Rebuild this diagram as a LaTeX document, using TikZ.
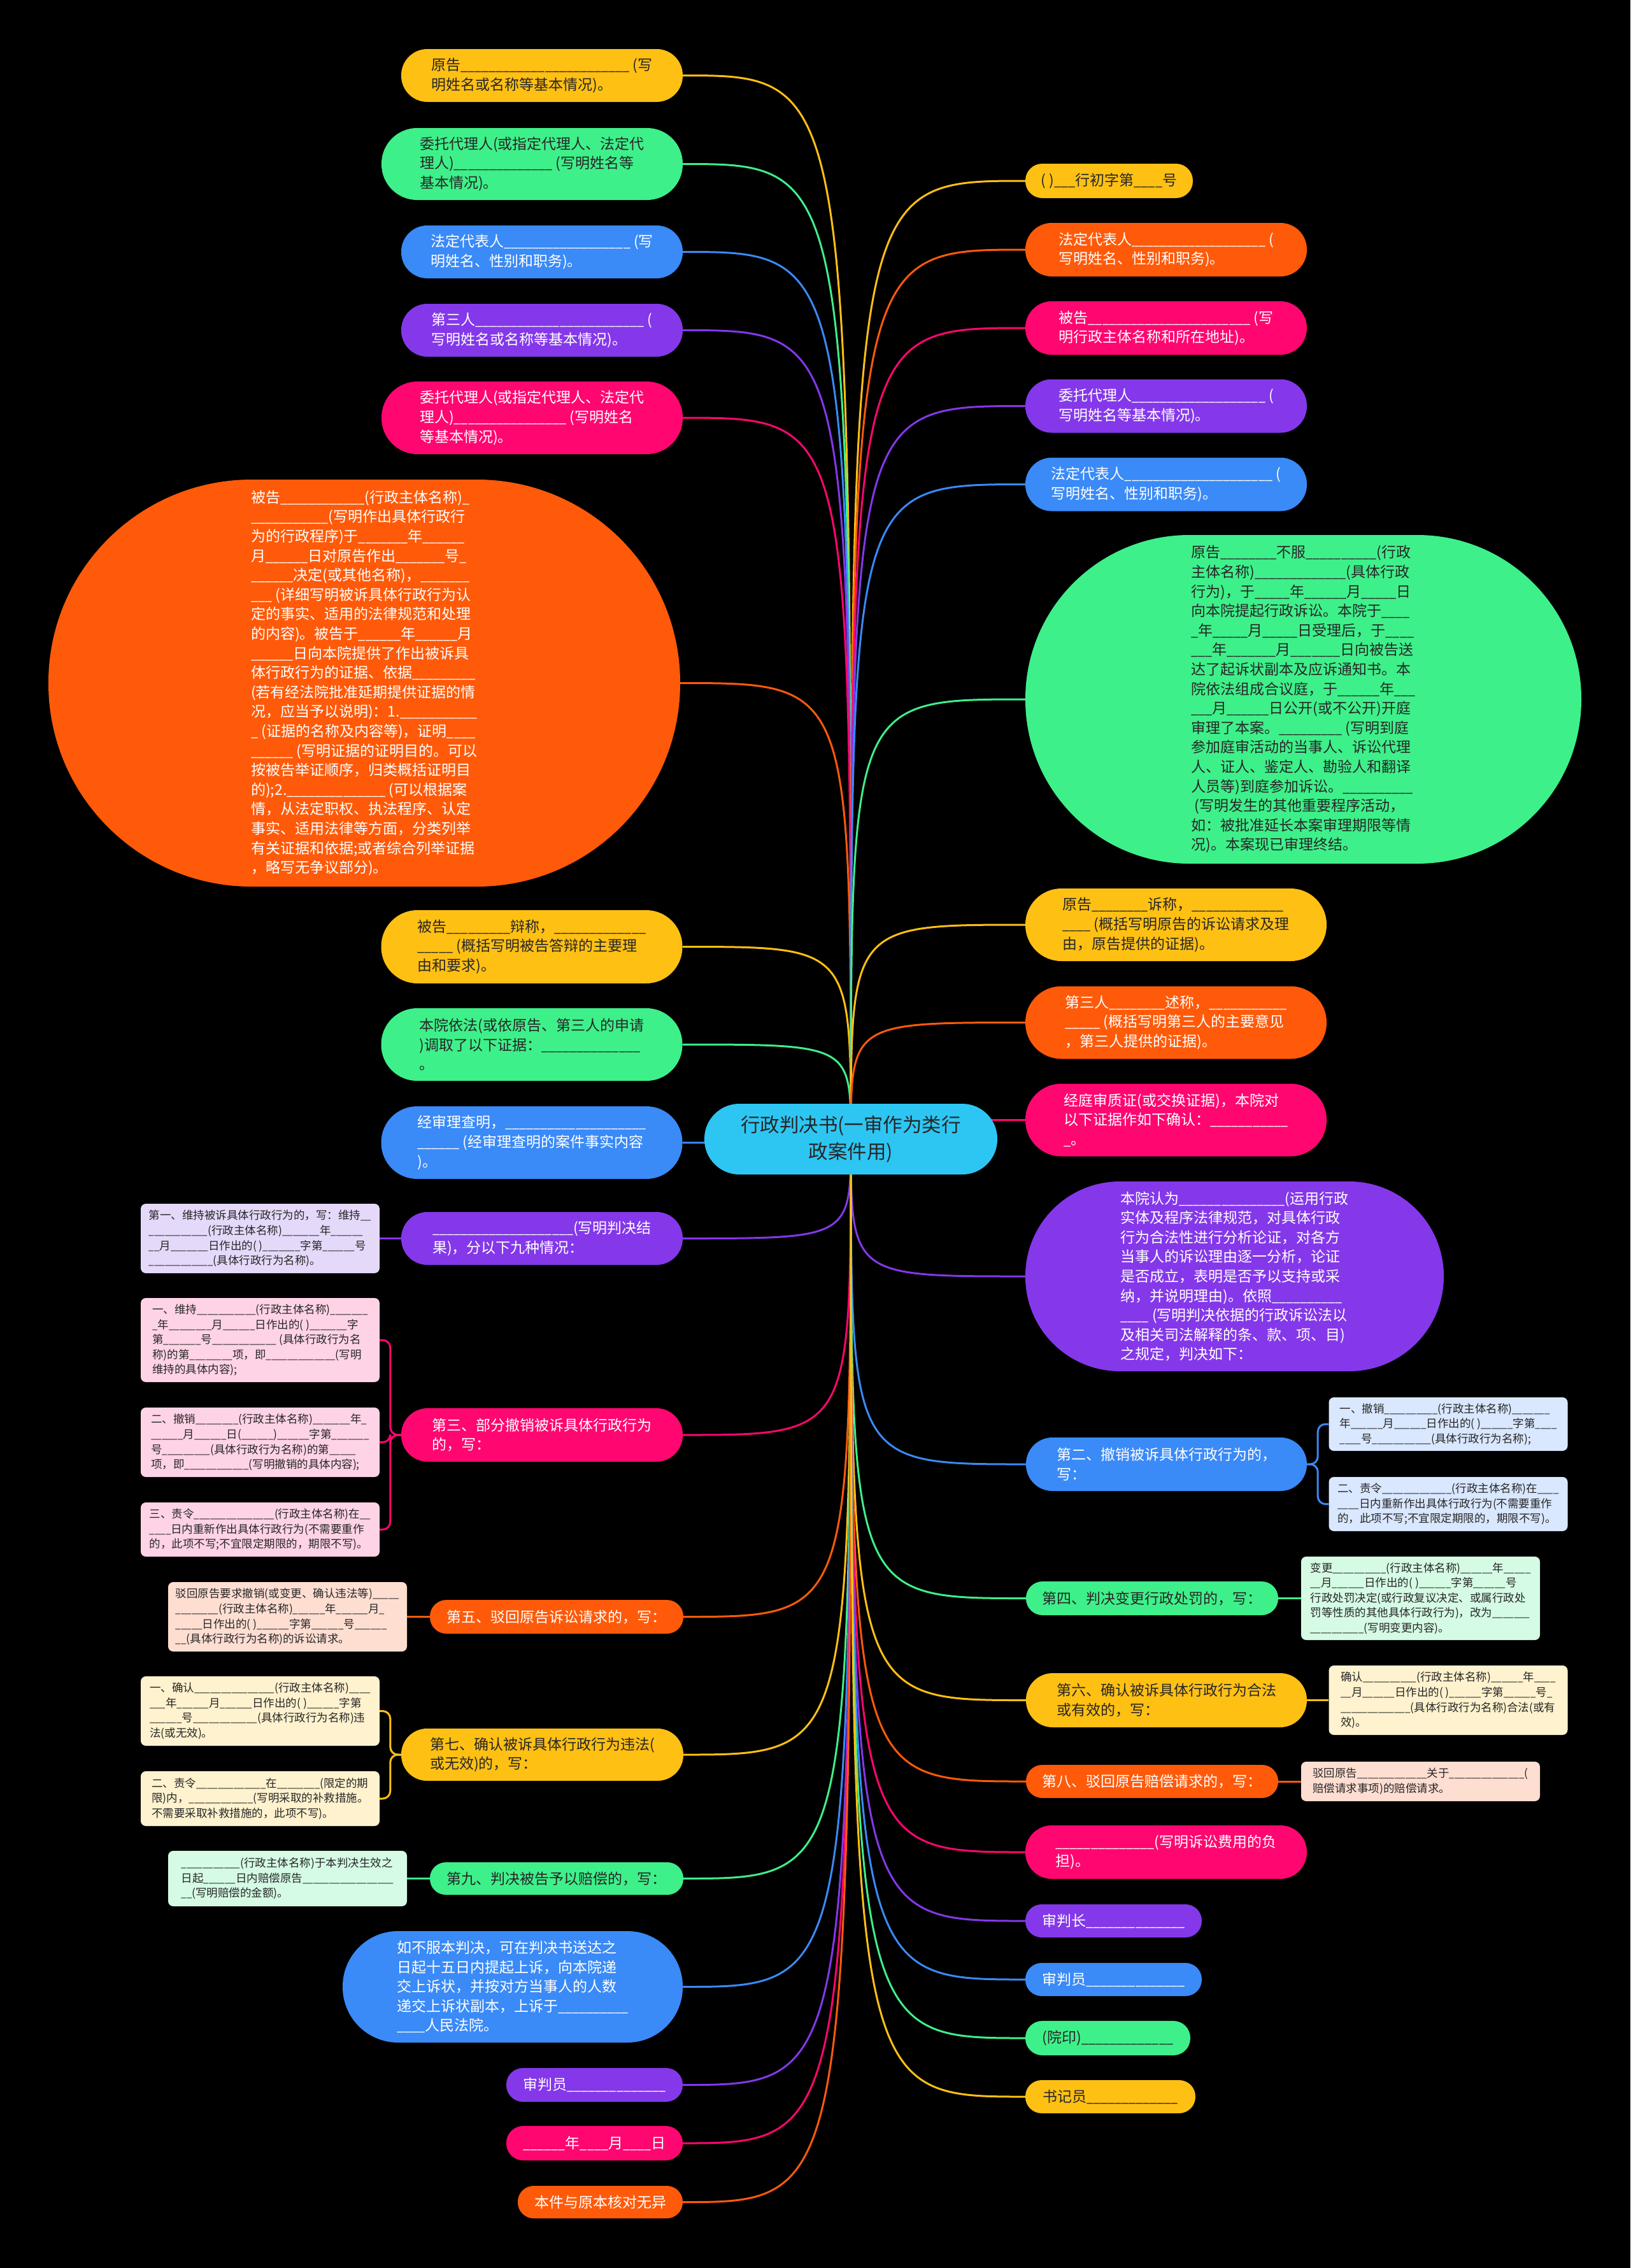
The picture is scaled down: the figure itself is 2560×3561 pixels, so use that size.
\documentclass[tikz,border=0pt]{standalone}
\usepackage{graphicx}
\usepackage{fontspec}
\setmainfont{Noto Sans CJK SC}
\definecolor{cY}{HTML}{FFC014}
\definecolor{cG}{HTML}{3EF08A}
\definecolor{cB}{HTML}{3A8AF8}
\definecolor{cP}{HTML}{8438EA}
\definecolor{cM}{HTML}{FF0670}
\definecolor{cO}{HTML}{FF5A0A}
\definecolor{cR}{HTML}{2DC6F3}
\definecolor{tD}{HTML}{262626}
\definecolor{sLav}{HTML}{E5D9FA}
\definecolor{sPink}{HTML}{FFD3E6}
\definecolor{sPeach}{HTML}{FFDED2}
\definecolor{sCream}{HTML}{FFF2CE}
\definecolor{sGreen}{HTML}{D5FBE4}
\definecolor{sBlue}{HTML}{D9E7FF}
\pgfdeclarelayer{bg}
\pgfsetlayers{bg,main}
\ExplSyntaxOn
\cs_new:Npn \usc #1 { \scalebox{0.86}[1]{ \prg_replicate:nn {#1} { \textunderscore } } }
\ExplSyntaxOff
\begin{document}
\begin{tikzpicture}[x=1pt,y=-1pt,
 every node/.style={inner sep=0pt, align=left, font=\fontsize{23}{30.6}\selectfont},
 fY/.style={fill=cY,text=tD}, fG/.style={fill=cG,text=tD}, fB/.style={fill=cB,text=white},
 fP/.style={fill=cP,text=white}, fM/.style={fill=cM,text=white}, fO/.style={fill=cO,text=white},
 sb/.style={rounded corners=8pt, minimum width=375pt, text=tD, font=\fontsize{17.5}{23.6}\selectfont},
 ln/.style={line width=3pt},
 br/.style={line width=3pt, rounded corners=12pt}]
\useasboundingbox (0,0) rectangle (2560,3561);
% root
\node[fill=cR, text=tD, align=center, font=\fontsize{30.5}{42}\selectfont, minimum width=460pt, minimum height=111pt, rounded corners=55pt] (root) at (1336,1788.5) {行政判决书(一审作为类行\\政案件用)};
% left side
\node[fY, minimum width=442pt, minimum height=83pt, rounded corners=41pt] (L1) at (851,118.5) {原告\usc{24} (写\\明姓名或名称等基本情况)。};
\node[fG, minimum width=473pt, minimum height=113pt, rounded corners=56pt] (L2) at (835.5,257.5) {委托代理人(或指定代理人、法定代\\理人)\usc{14} (写明姓名等\\基本情况)。};
\node[fB, minimum width=442pt, minimum height=83pt, rounded corners=41pt] (L3) at (851,395.5) {法定代表人\usc{18} (写\\明姓名、性别和职务)。};
\node[fP, minimum width=442pt, minimum height=83pt, rounded corners=41pt] (L4) at (851,518.5) {第三人\usc{24} (\\写明姓名或名称等基本情况)。};
\node[fM, minimum width=473pt, minimum height=114pt, rounded corners=56.5pt] (L5) at (835.5,656) {委托代理人(或指定代理人、法定代\\理人)\usc{16} (写明姓名\\等基本情况)。};
\node[fO, minimum width=992pt, minimum height=639pt, rounded corners=319pt] (L6) at (572,1072.5) {被告\usc{12}(行政主体名称)\usc{1}\\\usc{11}(写明作出具体行政行\\为的行政程序)于\usc{7}年\usc{6}\\月\usc{6}日对原告作出\usc{7}号\usc{1}\\\usc{6}决定(或其他名称)，\usc{7}\\\usc{3} (详细写明被诉具体行政行为认\\定的事实、适用的法律规范和处理\\的内容)。被告于\usc{6}年\usc{6}月\\\usc{6}日向本院提供了作出被诉具\\体行政行为的证据、依据\usc{9}\\(若有经法院批准延期提供证据的情\\况，应当予以说明)：1.\usc{11}\\\usc{1} (证据的名称及内容等)，证明\usc{4}\\\usc{6} (写明证据的证明目的。可以\\按被告举证顺序，归类概括证明目\\的);2.\usc{14} (可以根据案\\情，从法定职权、执法程序、认定\\事实、适用法律等方面，分类列举\\有关证据和依据;或者综合列举证据\\，略写无争议部分)。};
\node[fY, minimum width=473pt, minimum height=115pt, rounded corners=57pt] (L7) at (835,1486.5) {被告\usc{9}辩称，\usc{13}\\\usc{5} (概括写明被告答辩的主要理\\由和要求)。};
\node[fG, minimum width=473pt, minimum height=114pt, rounded corners=56.5pt] (L8) at (835,1640) {本院依法(或依原告、第三人的申请\\)调取了以下证据：\usc{14}\\。};
\node[fB, minimum width=473pt, minimum height=114pt, rounded corners=56.5pt] (L9) at (835,1794) {经审理查明，\usc{20}\\\usc{6} (经审理查明的案件事实内容\\)。};
\node[fP, minimum width=442pt, minimum height=83pt, rounded corners=41pt] (L10) at (851,1944.5) {\usc{20}(写明判决结\\果)，分以下九种情况：};
\node[sb, fill=sLav, minimum height=109pt] (L10a) at (408.5,1944.5) {第一、维持被诉具体行政行为的，写：维持\usc{2}\\\usc{11}(行政主体名称)\usc{7}年\usc{6}\\\usc{2}月\usc{7}日作出的( )\usc{7}字第\usc{6}号\\\usc{12}(具体行政行为名称)。};
\node[fM, minimum width=442pt, minimum height=84pt, rounded corners=41.5pt] (L11) at (851,2253) {第三、部分撤销被诉具体行政行为\\的，写：};
\node[sb, fill=sPink, minimum height=132pt] (L11a) at (408.5,2104) {一、维持\usc{11}(行政主体名称)\usc{7}\\\usc{1}年\usc{8}月\usc{6}日作出的( )\usc{7}字\\第\usc{7}号\usc{12} (具体行政行为名\\称)的第\usc{8}项，即\usc{13}(写明\\维持的具体内容);};
\node[sb, fill=sPink, minimum height=109pt] (L11b) at (408.5,2264.5) {二、撤销\usc{8}(行政主体名称)\usc{7}年\usc{1}\\\usc{6}月\usc{6}日(\usc{6})\usc{6}字第\usc{7}\\号\usc{9}(具体行政行为名称)的第\usc{5}\\项，即\usc{12}(写明撤销的具体内容);};
\node[sb, fill=sPink, minimum height=85pt] (L11c) at (408.5,2401.5) {三、责令\usc{15}(行政主体名称)在\usc{2}\\\usc{4}日内重新作出具体行政行为(不需要重作\\的，此项不写;不宜限定期限的，期限不写)。};
\node[fO, minimum width=398pt, minimum height=53pt, rounded corners=26pt] (L12) at (874,2538.5) {第五、驳回原告诉讼请求的，写：};
\node[sb, fill=sPeach, minimum height=109pt] (L12a) at (451.5,2538.5) {驳回原告要求撤销(或变更、确认违法等)\usc{5}\\\usc{8}(行政主体名称)\usc{6}年\usc{6}月\usc{1}\\\usc{5}日作出的( )\usc{6}字第\usc{6}号\usc{6}\\\usc{2}(具体行政行为名称)的诉讼请求。};
\node[fY, minimum width=443pt, minimum height=82pt, rounded corners=40.5pt] (L13) at (851.5,2755) {第七、确认被诉具体行政行为违法(\\或无效)的，写：};
\node[sb, fill=sCream, minimum height=109pt] (L13a) at (408.5,2686.5) {一、确认\usc{15}(行政主体名称)\usc{4}\\\usc{3}年\usc{6}月\usc{6}日作出的( )\usc{6}字第\\\usc{6}号\usc{12}(具体行政行为名称)违\\法(或无效)。};
\node[sb, fill=sCream, minimum height=86pt] (L13b) at (408.5,2824) {二、责令\usc{13}在\usc{8}(限定的期\\限)内，\usc{12}(写明采取的补救措施。\\不需要采取补救措施的，此项不写)。};
\node[fG, minimum width=398pt, minimum height=51pt, rounded corners=25pt] (L14) at (874,2949.5) {第九、判决被告予以赔偿的，写：};
\node[sb, fill=sGreen, minimum height=87pt] (L14a) at (451.5,2949.5) {\usc{11}(行政主体名称)于本判决生效之\\日起\usc{6}日内赔偿原告\usc{17}\\\usc{2}(写明赔偿的金额)。};
\node[fB, minimum width=534pt, minimum height=175pt, rounded corners=87pt] (L15) at (805,3119.5) {如不服本判决，可在判决书送达之\\日起十五日内提起上诉，向本院递\\交上诉状，并按对方当事人的人数\\递交上诉状副本，上诉于\usc{10}\\\usc{4}人民法院。};
\node[fP, minimum width=277pt, minimum height=53pt, rounded corners=26pt] (L16) at (933.5,3273.5) {审判员\usc{14}};
\node[fM, minimum width=277pt, minimum height=54pt, rounded corners=26.5pt] (L17) at (933.5,3365) {\usc{6}年\usc{4}月\usc{4}日};
\node[fO, minimum width=259pt, minimum height=51pt, rounded corners=25pt] (L18) at (942.5,3457.5) {本件与原本核对无异};
% right side
\node[fY, minimum width=263pt, minimum height=54pt, rounded corners=26.5pt] (R1) at (1741.5,284) {( )\usc{3}行初字第\usc{4}号};
\node[fO, minimum width=442pt, minimum height=84pt, rounded corners=41.5pt] (R2) at (1831,392) {法定代表人\usc{19} (\\写明姓名、性别和职务)。};
\node[fM, minimum width=442pt, minimum height=84pt, rounded corners=41.5pt] (R3) at (1831,515) {被告\usc{23} (写\\明行政主体名称和所在地址)。};
\node[fP, minimum width=442pt, minimum height=84pt, rounded corners=41.5pt] (R4) at (1831,637.5) {委托代理人\usc{19} (\\写明姓名等基本情况)。};
\node[fB, minimum width=442pt, minimum height=84pt, rounded corners=41.5pt] (R5) at (1831,760.5) {法定代表人\usc{21} (\\写明姓名、性别和职务)。};
\node[fG, minimum width=873pt, minimum height=516pt, rounded corners=257.5pt] (R6) at (2046.5,1098) {原告\usc{8}不服\usc{10}(行政\\主体名称)\usc{13}(具体行政\\行为)，于\usc{5}年\usc{6}月\usc{5}日\\向本院提起行政诉讼。本院于\usc{4}\\\usc{1}年\usc{5}月\usc{5}日受理后，于\usc{4}\\\usc{3}年\usc{7}月\usc{7}日向被告送\\达了起诉状副本及应诉通知书。本\\院依法组成合议庭，于\usc{6}年\usc{3}\\\usc{3}月\usc{6}日公开(或不公开)开庭\\审理了本案。\usc{9} (写明到庭\\参加庭审活动的当事人、诉讼代理\\人、证人、鉴定人、勘验人和翻译\\人员等)到庭参加诉讼。\usc{10}\\~(写明发生的其他重要程序活动，\\如：被批准延长本案审理期限等情\\况)。本案现已审理终结。};
\node[fY, minimum width=473pt, minimum height=114pt, rounded corners=56.5pt] (R7) at (1846.5,1452) {原告\usc{8}诉称，\usc{13}\\\usc{4} (概括写明原告的诉讼请求及理\\由，原告提供的证据)。};
\node[fO, minimum width=473pt, minimum height=114pt, rounded corners=56.5pt] (R8) at (1846.5,1605.5) {第三人\usc{8}述称，\usc{11}\\\usc{5} (概括写明第三人的主要意见\\，第三人提供的证据)。};
\node[fM, minimum width=473pt, minimum height=114pt, rounded corners=56.5pt] (R9) at (1846.5,1758.5) {经庭审质证(或交换证据)，本院对\\以下证据作如下确认：\usc{11}\\\usc{1}。};
\node[fP, minimum width=657pt, minimum height=298pt, rounded corners=148.5pt] (R10) at (1938.5,2004) {本院认为\usc{15}(运用行政\\实体及程序法律规范，对具体行政\\行为合法性进行分析论证，对各方\\当事人的诉讼理由逐一分析，论证\\是否成立，表明是否予以支持或采\\纳，并说明理由)。依照\usc{10}\\\usc{4} (写明判决依据的行政诉讼法以\\及相关司法解释的条、款、项、目)\\之规定，判决如下：};
\node[fB, minimum width=441pt, minimum height=84pt, rounded corners=41.5pt] (R11) at (1831.5,2299) {第二、撤销被诉具体行政行为的，\\写：};
\node[sb, fill=sBlue, minimum height=84pt] (R11a) at (2274,2236) {一、撤销\usc{10}(行政主体名称)\usc{7}\\年\usc{6}月\usc{6}日作出的( )\usc{6}字第\usc{4}\\\usc{4}号\usc{11}(具体行政行为名称);};
\node[sb, fill=sBlue, minimum height=85pt] (R11b) at (2274,2361.5) {二、责令\usc{13}(行政主体名称)在\usc{4}\\\usc{4}日内重新作出具体行政行为(不需要重作\\的，此项不写;不宜限定期限的，期限不写)。};
\node[fG, minimum width=396pt, minimum height=53pt, rounded corners=26pt] (R12) at (1809,2509.5) {第四、判决变更行政处罚的，写：};
\node[sb, fill=sGreen, minimum height=131pt] (R12a) at (2230.5,2509.5) {变更\usc{10}(行政主体名称)\usc{6}年\usc{5}\\\usc{2}月\usc{6}日作出的( )\usc{6}字第\usc{6}号\\行政处罚决定(或行政复议决定、或属行政处\\罚等性质的其他具体行政行为)，改为\usc{7}\\\usc{10}(写明变更内容)。};
\node[fY, minimum width=441pt, minimum height=85pt, rounded corners=42pt] (R13) at (1831.5,2669.5) {第六、确认被诉具体行政行为合法\\或有效的，写：};
\node[sb, fill=sCream, minimum height=109pt] (R13a) at (2274,2669.5) {确认\usc{10}(行政主体名称)\usc{6}年\usc{4}\\\usc{2}月\usc{6}日作出的( )\usc{6}字第\usc{6}号\usc{1}\\\usc{13}(具体行政行为名称)合法(或有\\效)。};
\node[fO, minimum width=396pt, minimum height=52pt, rounded corners=25.5pt] (R14) at (1809,2797) {第八、驳回原告赔偿请求的，写：};
\node[sb, fill=sPeach, minimum height=62pt] (R14a) at (2230.5,2797) {驳回原告\usc{13}关于\usc{14}(\\赔偿请求事项)的赔偿请求。};
\node[fM, minimum width=442pt, minimum height=84pt, rounded corners=41.5pt] (R15) at (1831,2908) {\usc{14}(写明诉讼费用的负\\担)。};
\node[fP, minimum width=277pt, minimum height=52pt, rounded corners=25.5pt] (R16) at (1748.5,3016) {审判长\usc{14}};
\node[fB, minimum width=277pt, minimum height=52pt, rounded corners=25.5pt] (R17) at (1748.5,3108) {审判员\usc{14}};
\node[fG, minimum width=259pt, minimum height=54pt, rounded corners=26.5pt] (R18) at (1739.5,3200) {(院印)\usc{13}};
\node[fY, minimum width=267pt, minimum height=52pt, rounded corners=25.5pt] (R19) at (1743.5,3292) {书记员\usc{13}};
\begin{pgfonlayer}{bg}
\fill[black] (0,0) rectangle (2560,3561);
% left connectors
\foreach \n/\c in {L1/cY,L2/cG,L3/cB,L4/cP,L5/cM,L6/cO,L7/cY,L8/cG,L9/cB,L10/cP,L11/cM,L12/cO,L13/cY,L14/cG,L15/cB,L16/cP,L17/cM,L18/cO}
  \draw[ln,\c] (root.center) .. controls (root.center |- \n.east) .. (\n.east);
% right connectors
\foreach \n/\c in {R1/cY,R2/cO,R3/cM,R4/cP,R5/cB,R6/cG,R7/cY,R8/cO,R9/cM,R10/cP,R11/cB,R12/cG,R13/cY,R14/cO,R15/cM,R16/cP,R17/cB,R18/cG,R19/cY}
  \draw[ln,\c] (root.center) .. controls (root.center |- \n.west) .. (\n.west);
% second level
\draw[ln,cP] (L10.west) -- (L10a.east);
\foreach \k in {L11a,L11b,L11c} \draw[br,cM] (L11.west) -- ++(-17,0) |- (\k.east);
\draw[ln,cO] (L12.west) -- (L12a.east);
\foreach \k in {L13a,L13b} \draw[br,cY] (L13.west) -- ++(-17,0) |- (\k.east);
\draw[ln,cG] (L14.west) -- (L14a.east);
\foreach \k in {R11a,R11b} \draw[br,cB] (R11.east) -- ++(17,0) |- (\k.west);
\draw[ln,cG] (R12.east) -- (R12a.west);
\draw[ln,cY] (R13.east) -- (R13a.west);
\draw[ln,cO] (R14.east) -- (R14a.west);
\end{pgfonlayer}
\end{tikzpicture}
\end{document}
